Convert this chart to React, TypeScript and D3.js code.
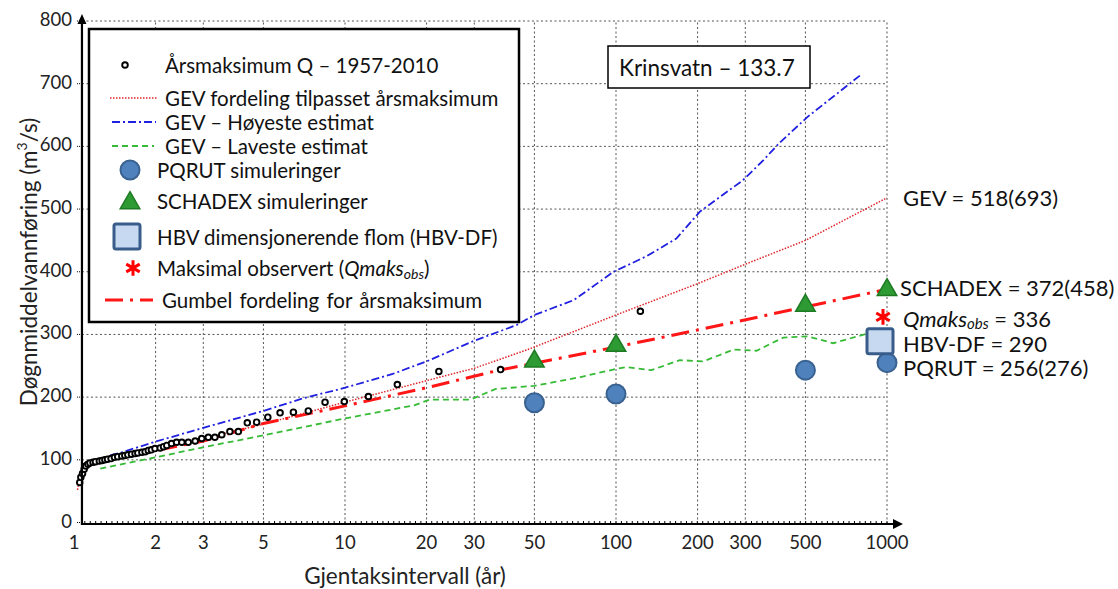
import React from 'react';
import * as d3 from 'd3';

// annual maxima 1957-2010, plotted at their return period
const obsT = [1.05, 1.06, 1.075, 1.09, 1.105, 1.125, 1.145, 1.175, 1.2, 1.24, 1.27, 1.3, 1.33, 1.37, 1.41, 1.45, 1.5, 1.54, 1.58, 1.63, 1.68, 1.72, 1.78, 1.83, 1.88, 1.93, 1.99, 2.08, 2.14, 2.2, 2.29, 2.39, 2.5, 2.64, 2.8, 2.96, 3.13, 3.31, 3.51, 3.76, 4.04, 4.36, 4.72, 5.19, 5.76, 6.45, 7.32, 8.44, 9.94, 12.2, 15.6, 22.2, 37.5, 123];
const obsQ = [64, 72, 78, 85, 90, 93, 95, 96, 97, 98, 99, 100, 101, 102, 104, 105, 106, 107, 108, 109, 110, 111, 112, 113, 115, 116, 118, 119, 121, 123, 126, 128, 128, 128, 130, 134, 136, 136, 140, 145, 145, 159, 160, 168, 175, 176, 178, 192, 193, 201, 220, 241, 244, 337];

const gevT = [1.03, 1.05, 1.08, 1.12, 1.2, 1.5, 2, 3, 4.5, 6, 10, 15, 22, 30, 48, 100, 200, 300, 500, 1000];
const gevQ = [52, 70, 83, 91, 98, 107, 118, 134, 152, 166, 192, 212, 231, 246, 277, 331, 381, 412, 450, 518];

const gevHighT = [1.36, 1.5, 2, 3, 5, 7, 10, 15, 20, 30, 43, 50, 70, 98, 130, 167, 204, 294, 350, 400, 509, 800];
const gevHighQ = [107, 112, 129, 151, 178, 198, 215, 237, 257, 290, 315, 331, 355, 400, 425, 453, 496, 546, 578, 605, 647, 714];

const gevLowT = [1.25, 2, 3, 5, 10, 18, 20.5, 29, 36, 50, 74, 100, 109, 135, 172, 210, 272, 330, 414, 509, 633, 840];
const gevLowQ = [86, 104, 120, 139, 166, 187, 196, 196, 213, 218, 232, 245, 248, 243, 259, 257, 276, 274, 295, 297, 286, 301];

const gumbelT = [1.15, 1.2, 1.5, 2, 3, 5, 10, 20, 37, 50, 100, 200, 500, 1000];
const gumbelQ = [96, 99, 106, 115, 130, 158, 186, 215, 243, 254, 280, 307, 344, 372];

const simT = [50, 100, 500, 1000];
const pqrutQ = [191, 205, 243, 255];
const schadexQ = [257, 282, 346, 371];
const hbvT = 1000;
const hbvQ = 289;
const qmaksT = 1000;
const qmaksQ = 328;

const xTicks = [1, 2, 3, 5, 10, 20, 30, 50, 100, 200, 300, 500, 1000];
const yTicks = [0, 100, 200, 300, 400, 500, 600, 700, 800];

const FONT = "Lato, 'Open Sans', sans-serif";
const C_GEV = '#e0262a';
const C_HIGH = '#2020e0';
const C_LOW = '#36bb36';
const C_GUMBEL = '#ff1616';
const C_CIRCLE = '#4f81bd';
const C_CIRCLE_S = '#3a6291';
const C_TRI = '#2e9a33';
const C_TRI_S = '#1d7a22';

const triPath = d3.symbol().type(d3.symbolTriangle).size(165)();
const starPath = d3.symbol().type(d3.symbolAsterisk).size(170)();

export default function App() {
  const x = d3.scaleLog().domain([1, 1000]).range([74, 887]);
  const y = d3.scaleLinear().domain([0, 800]).range([522.5, 21]);
  const x0 = x(1.07);
  const xEnd = x(1000);
  const yBase = y(0) + 1.5;

  const path = (ts: number[], qs: number[]) =>
    d3.line()(ts.map((t, i) => [x(t), y(qs[i])] as [number, number])) || '';

  // minor ticks, evenly spaced in log space
  const minor: number[] = d3.range(2, 151).map((k) => Math.pow(10, k / 50));

  const gridDash = '2,2.5';

  return (
    <svg width={1118} height={589} style={{ position: 'absolute', left: 0, top: 0, background: '#fff' }} fontFamily={FONT}>
      {/* grid */}
      <g stroke="#555" strokeWidth={1} strokeDasharray={gridDash}>
        {yTicks.filter((v) => v > 0).map((v) => (
          <line key={'h' + v} x1={x0} x2={xEnd} y1={y(v)} y2={y(v)} />
        ))}
        {xTicks.filter((t) => t > 1).map((t) => (
          <line key={'v' + t} x1={x(t)} x2={x(t)} y1={yBase} y2={y(800)} />
        ))}
      </g>

      {/* lines */}
      <path d={path(gevLowT, gevLowQ)} fill="none" stroke={C_LOW} strokeWidth={1.8} strokeDasharray="6,4" />
      <path d={path(gevHighT, gevHighQ)} fill="none" stroke={C_HIGH} strokeWidth={1.8} strokeDasharray="8,3,2,3" />
      <path d={path(gevT, gevQ)} fill="none" stroke={C_GEV} strokeWidth={1.5} strokeDasharray="1.5,1.5" />
      <path d={path(gumbelT, gumbelQ)} fill="none" stroke={C_GUMBEL} strokeWidth={3} strokeDasharray="18,7,3,7" />

      {/* observed annual maxima */}
      {obsT.map((t, i) => (
        <circle key={'o' + i} cx={x(t)} cy={y(obsQ[i])} r={2.8} fill="#fff" stroke="#000" strokeWidth={1.9} />
      ))}

      {/* simulations */}
      {simT.map((t, i) => (
        <circle key={'p' + i} cx={x(t)} cy={y(pqrutQ[i])} r={9.5} fill={C_CIRCLE} stroke={C_CIRCLE_S} strokeWidth={2} />
      ))}
      <rect x={x(hbvT) - 20} y={y(hbvQ) - 12.5} width={26} height={25} rx={2} fill="#c6d9f1" stroke="#385d8a" strokeWidth={3} />
      {simT.map((t, i) => (
        <path key={'s' + i} d={triPath} transform={`translate(${x(t)},${y(schadexQ[i])})`} fill={C_TRI} stroke={C_TRI_S} strokeWidth={1.5} />
      ))}
      <path d={starPath} transform={`translate(${x(qmaksT) - 4},${y(qmaksQ)})`} fill="none" stroke="#ff0000" strokeWidth={3} />

      {/* axes */}
      <g stroke="#000">
        <line x1={x0} x2={x0} y1={yBase + 1} y2={22} strokeWidth={2.2} />
        <line x1={x0 - 1} x2={895} y1={yBase} y2={yBase} strokeWidth={2.2} />
        {minor.filter((t) => x(t) > x0 + 2).map((t, i) => (
          <line key={'m' + i} x1={x(t)} x2={x(t)} y1={yBase} y2={yBase - 3} strokeWidth={1} />
        ))}
        {yTicks.map((v) => (
          <line key={'yt' + v} x1={x0 - 5} x2={x0} y1={y(v)} y2={y(v)} strokeWidth={1} strokeDasharray="1,1" />
        ))}
      </g>
      <path d={`M${x0 - 4.5},24 L${x0},14 L${x0 + 4.5},24 Z`} fill="#000" />
      <path d={`M893,${yBase - 5} L903,${yBase} L893,${yBase + 5} Z`} fill="#000" />

      {/* tick labels */}
      <g fontSize={18.5} fill="#222">
        {yTicks.map((v) => (
          <text key={'yl' + v} x={72} y={y(v) - 2} textAnchor="end" dominantBaseline="central">{v}</text>
        ))}
        {xTicks.map((t) => (
          <text key={'xl' + t} x={x(t)} y={542} textAnchor="middle" dominantBaseline="central">{t}</text>
        ))}
      </g>

      {/* axis titles */}
      <text x={405} y={575} textAnchor="middle" dominantBaseline="central" fontSize={22.5} fill="#222">Gjentaksintervall (år)</text>
      <text transform="translate(28,262) rotate(-90)" textAnchor="middle" dominantBaseline="central" fontSize={22.5} fill="#222">
        Døgnmiddelvannføring (m<tspan dy={-7} fontSize={14}>3</tspan><tspan dy={7}>/s)</tspan>
      </text>

      {/* legend */}
      <g>
        <rect x={89} y={29} width={430} height={293} fill="#fff" stroke="#000" strokeWidth={2.5} />
        <circle cx={125} cy={65} r={2.8} fill="#fff" stroke="#000" strokeWidth={1.9} />
        <line x1={110} x2={157} y1={98} y2={98} stroke={C_GEV} strokeWidth={1.5} strokeDasharray="1.5,1.5" />
        <line x1={112} x2={156} y1={122} y2={122} stroke={C_HIGH} strokeWidth={1.8} strokeDasharray="8,3,2,3" />
        <line x1={112} x2={154} y1={146} y2={146} stroke={C_LOW} strokeWidth={1.8} strokeDasharray="6,4" />
        <circle cx={130} cy={170} r={9.5} fill={C_CIRCLE} stroke={C_CIRCLE_S} strokeWidth={2} />
        <path d={triPath} transform="translate(130,203)" fill={C_TRI} stroke={C_TRI_S} strokeWidth={1.5} />
        <rect x={114} y={224} width={26} height={25} rx={2} fill="#c6d9f1" stroke="#385d8a" strokeWidth={3} />
        <path d={starPath} transform="translate(133,268)" fill="none" stroke="#ff0000" strokeWidth={3} />
        <line x1={105} x2={153} y1={300} y2={300} stroke={C_GUMBEL} strokeWidth={3} strokeDasharray="18,7,3,7" />
        <g fontSize={20.5} fill="#111" dominantBaseline="central">
          <text x={165} y={65}>Årsmaksimum Q – 1957-2010</text>
          <text x={165} y={98}>GEV fordeling tilpasset årsmaksimum</text>
          <text x={165} y={122}>GEV – Høyeste estimat</text>
          <text x={165} y={146}>GEV – Laveste estimat</text>
          <text x={157} y={170}>PQRUT simuleringer</text>
          <text x={157} y={201}>SCHADEX simuleringer</text>
          <text x={157} y={237}>HBV dimensjonerende flom (HBV-DF)</text>
          <text x={157} y={268}>
            Maksimal observert (<tspan fontStyle="italic">Qmaks</tspan>
            <tspan fontStyle="italic" fontSize={14} dy={5}>obs</tspan>
            <tspan dy={-5}>)</tspan>
          </text>
          <text x={162} y={300} wordSpacing={2}>Gumbel fordeling for årsmaksimum</text>
        </g>
      </g>

      {/* station box */}
      <rect x={608} y={46} width={202} height={42} fill="#fff" stroke="#000" strokeWidth={1.5} />
      <text x={619} y={67} fontSize={22.5} fill="#111" dominantBaseline="central">Krinsvatn – 133.7</text>

      {/* right-hand annotations */}
      <g fontSize={22} fill="#111" dominantBaseline="central">
        <text x={903} y={197}>GEV = 518(693)</text>
        <text x={900} y={287}>SCHADEX = 372(458)</text>
        <text x={903} y={318}>
          <tspan fontStyle="italic">Qmaks</tspan>
          <tspan fontStyle="italic" fontSize={15} dy={5}>obs</tspan>
          <tspan dy={-5}> = 336</tspan>
        </text>
        <text x={903} y={343}>HBV-DF = 290</text>
        <text x={903} y={367}>PQRUT = 256(276)</text>
      </g>
    </svg>
  );
}
